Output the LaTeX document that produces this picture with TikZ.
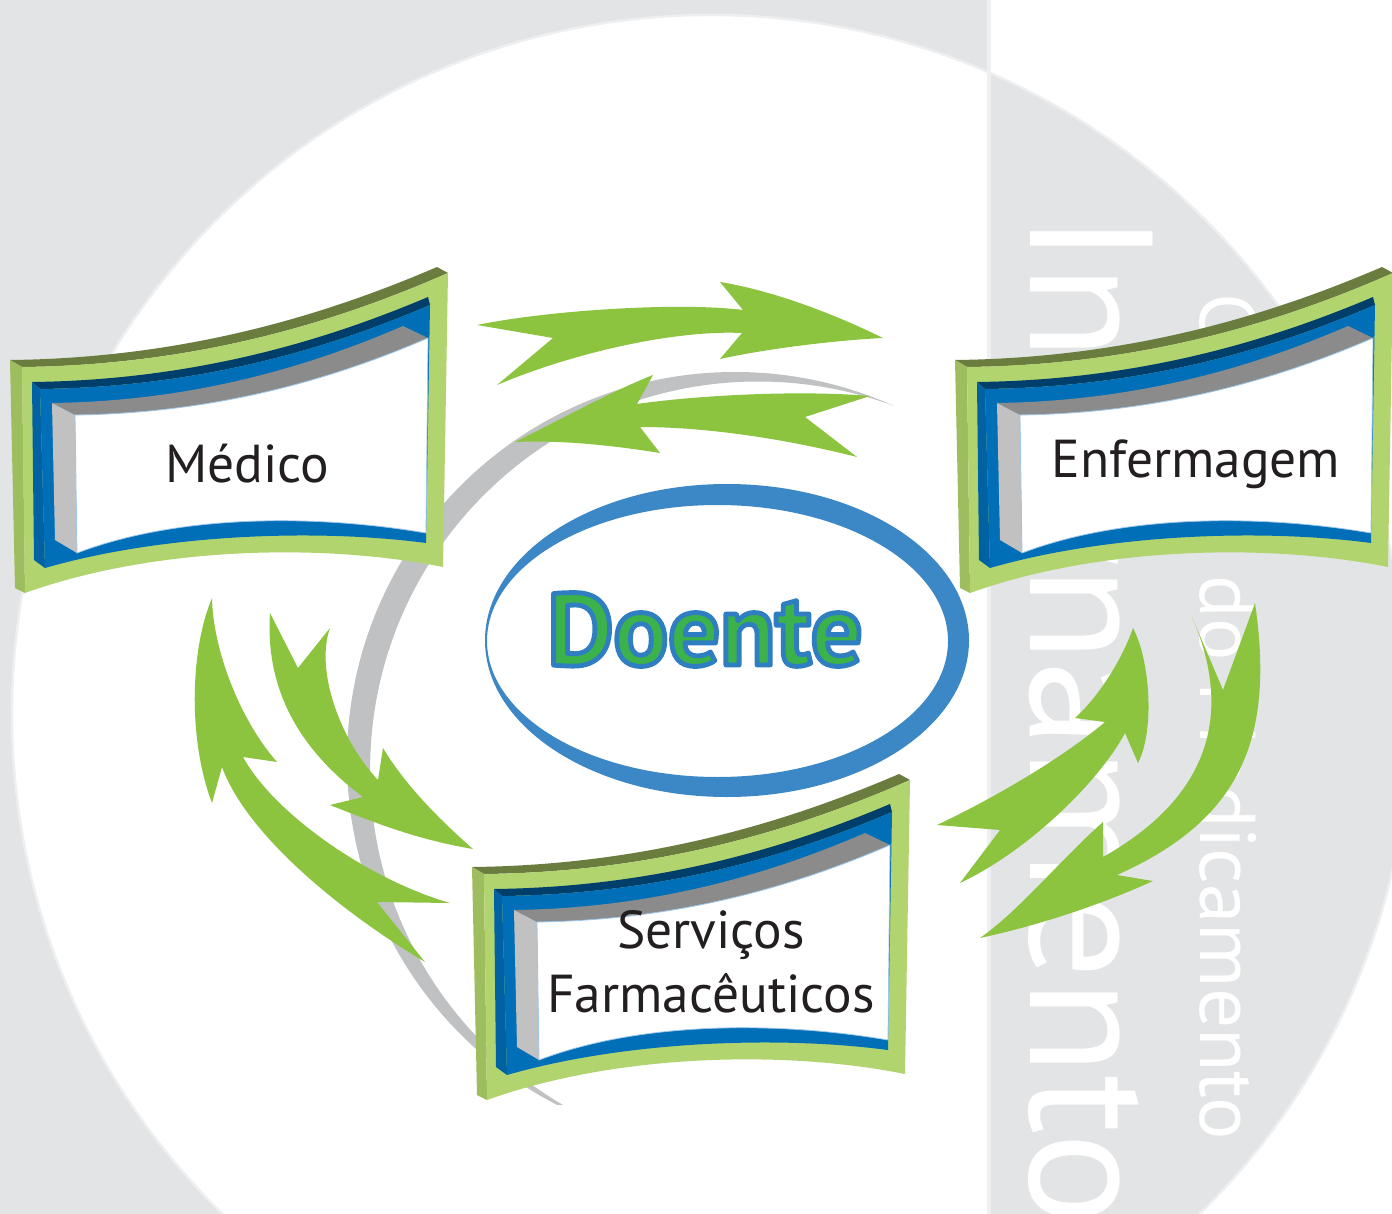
\documentclass[tikz,border=0pt]{standalone}
\usepackage{fontspec}
\setmainfont{PT Sans}
\definecolor{bggray}{HTML}{E3E4E5}
\definecolor{ringline}{HTML}{EEEFF0}
\definecolor{crescent}{HTML}{C0C1C3}
\definecolor{ringblue}{HTML}{3C88C6}
\definecolor{dogreen}{HTML}{3BB24A}
\definecolor{doblue}{HTML}{2F7EC2}
\definecolor{agreen}{HTML}{8CC43F}
\definecolor{olivec}{HTML}{6A7D3F}
\definecolor{lightgreen}{HTML}{B1D46F}
\definecolor{sidegreen}{HTML}{9DBD5F}
\definecolor{darkblue}{HTML}{003E6B}
\definecolor{midblue}{HTML}{006FB8}
\definecolor{sideblue}{HTML}{0062A2}
\definecolor{graytop}{HTML}{8B8B8B}
\definecolor{grayleft}{HTML}{C1C1C1}
\definecolor{panelline}{HTML}{9CC6EA}
\definecolor{txt}{HTML}{231F20}
\tikzset{
  garrow/.style={fill=agreen},
  label/.style={inner sep=0pt, text=txt, font=\fontsize{26.7}{32}\selectfont},
  bgtext/.style={rotate=-90, anchor=base west, inner sep=0pt, text=white}
}
\newcommand{\signbox}[2]{%
\begin{scope}[shift={(#1,#2)}]
\fill[olivec] (10,360) .. controls (189,358) and (330,313) .. (437,267) -- (448,273) .. controls (341,320) and (201,365) .. (22,367) -- cycle;
\fill[sidegreen] (10,360) -- (22,367) -- (25,593) -- (15,588) -- cycle;
\fill[lightgreen] (22,367) .. controls (201,365) and (341,320) .. (448,273) -- (443,567) .. controls (318,542) and (150,548) .. (25,593) -- cycle;
\fill[darkblue] (32,382) .. controls (198,380) and (329,339) .. (428,297) -- (430,305) .. controls (332,347) and (204,387) .. (40,389) -- cycle;
\fill[sideblue] (32,382) -- (40,389) -- (45,568) -- (34,560) -- cycle;
\fill[midblue] (40,389) .. controls (204,387) and (332,347) .. (430,305) -- (426,543) .. controls (312,528) and (159,535) .. (45,568) -- cycle;
\fill[graytop] (52,403) .. controls (199,401) and (315,364) .. (403,326) -- (428,338) .. controls (340,376) and (223,413) .. (75,415) -- cycle;
\fill[grayleft] (52,403) -- (75,415) -- (77,553) -- (55,540) -- cycle;
\filldraw[fill=white, draw=panelline, line width=0.4pt] (75,415) .. controls (223,413) and (340,376) .. (428,338) -- (426,533) .. controls (321,515) and (182,513) .. (77,553) -- cycle;
\end{scope}}
\begin{document}
\begin{tikzpicture}[x=0.5pt,y=-0.5pt]
\useasboundingbox (0,0) rectangle (1392,1214);
\clip (0,0) rectangle (1392,1214);
% background
\fill[bggray] (0,0) rectangle (1392,1214);
\begin{scope}
  \clip (0,0) rectangle (989,1214);
  \fill[white] (711,714) circle[radius=349.5pt];
\end{scope}
\begin{scope}
  \clip (989,0) rectangle (1392,1214);
  \fill[white] (989,0) rectangle (1392,1214);
  \fill[bggray] (711,714) circle[radius=349.5pt];
\end{scope}
\draw[ringline, line width=1.2pt] (711,714) circle[radius=349.5pt];
\draw[ringline, line width=1.6pt] (989,0) -- (989,1214);
% background texts
\node[bgtext, font=\fontsize{87.5}{90}\selectfont] (bigtxt) at (1030,213) {Internamento};
\node[bgtext, font=\fontsize{39.6}{42}\selectfont] (smalltxt) at (1200,293) {Circuito do Medicamento};
% gray crescent
\begin{scope}
  \clip (1127.5,-159.75) -- (365.5,1689.25) -- (-559,1308.25) -- (203,-540.75) -- cycle;
  \clip (0,0) rectangle (1392,1104);
  \fill[crescent, even odd rule] (735,760) circle[radius=194pt] (758.1,769.5) circle[radius=194pt];
\end{scope}
% Doente ellipse
\fill[ringblue, even odd rule] (727,640.5) ellipse[x radius=121pt, y radius=78.25pt] (717.5,641) ellipse[x radius=115.25pt, y radius=68pt];
\node[font=\bfseries\fontsize{51}{54}\selectfont, text=dogreen, anchor=base, inner sep=0pt] (doente) at (705,665)
  {\special{pdf:literal direct 1 j 2.4 w 0.184 0.494 0.761 RG 2 Tr}Doente\special{pdf:literal direct 0 Tr}};
% arrows top
\fill[garrow] (477,325) .. controls (550,310) and (680,302) .. (743,310) -- (720,282)
  .. controls (770,290) and (830,312) .. (883,338)
  .. controls (840,340) and (770,348) .. (720,359) -- (742,333)
  .. controls (680,330) and (580,350) .. (497,385) -- (553,338) -- cycle;
\fill[garrow] (515,442) .. controls (560,420) and (610,392) .. (653,375) -- (637,404)
  .. controls (700,395) and (800,390) .. (870,396) -- (805,417) -- (857,457)
  .. controls (790,440) and (710,427) .. (640,427) -- (660,453)
  .. controls (610,445) and (560,440) .. (515,442) -- cycle;
% arrows left
\fill[garrow] (212,598) .. controls (213,650) and (240,720) .. (277,762) -- (243,757)
  .. controls (275,815) and (370,880) .. (450,903) -- (377,902) -- (425,962)
  .. controls (330,905) and (245,830) .. (222,767) -- (212,803)
  .. controls (188,740) and (190,650) .. (212,598) -- cycle;
\fill[garrow] (270,613) .. controls (265,690) and (300,750) .. (363,797) -- (330,805)
  .. controls (380,825) and (420,840) .. (473,849)
  .. controls (440,820) and (405,785) .. (383,748) -- (378,780)
  .. controls (340,740) and (315,670) .. (330,628) -- (298,668) -- cycle;
% arrows right
\fill[garrow] (1133,628) .. controls (1150,660) and (1155,730) .. (1138,763) -- (1125,733)
  .. controls (1100,780) and (1030,850) .. (960,883) -- (1000,830) -- (937,825)
  .. controls (990,800) and (1060,760) .. (1105,722) -- (1075,718)
  .. controls (1095,700) and (1120,665) .. (1133,628) -- cycle;
\fill[garrow] (1192,617) -- (1223,690) -- (1255,603)
  .. controls (1275,740) and (1240,820) .. (1117,875) -- (1153,881)
  .. controls (1100,905) and (1040,925) .. (980,938)
  .. controls (1020,910) and (1060,860) .. (1103,822) -- (1103,857)
  .. controls (1222,790) and (1228,700) .. (1192,617) -- cycle;
% boxes
\signbox{0}{0}
\signbox{945}{0}
\signbox{462}{507}
\node[label, anchor=base] (medico) at (247,482) {Médico};
\node[label, anchor=base] (enf) at (1196,477) {Enfermagem};
\node[label, align=center, anchor=center] (farm) at (711,962) {Serviços\\Farmacêuticos};
\end{tikzpicture}
\end{document}
